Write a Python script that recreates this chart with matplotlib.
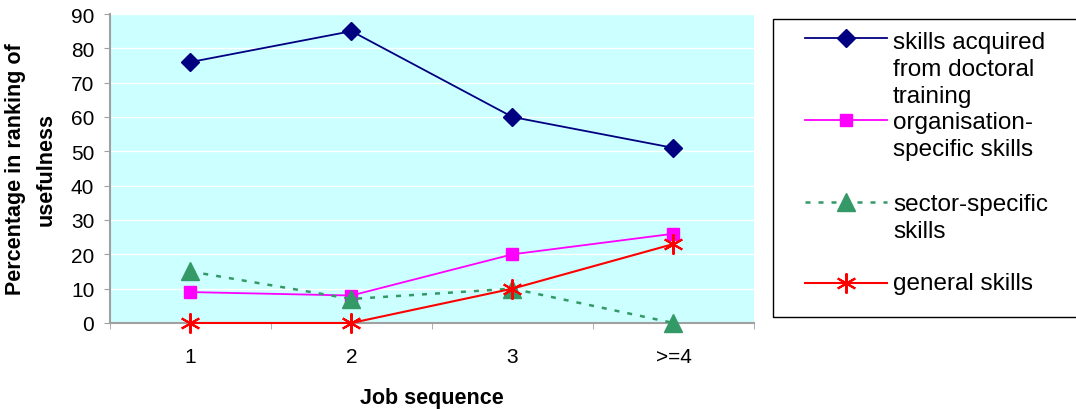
import numpy as np
import matplotlib.pyplot as plt
from matplotlib.lines import Line2D
from matplotlib.patches import Rectangle

plt.rcParams['font.family'] = ['Liberation Sans', 'DejaVu Sans']

categories = ['1', '2', '3', '>=4']
doctoral = [76, 85, 60, 51]
organisation = [9, 8, 20, 26]
sector = [15, 7, 10, 0]
general = [0, 0, 10, 23]

labels = ['skills acquired\nfrom doctoral\ntraining',
          'organisation-\nspecific skills',
          'sector-specific\nskills',
          'general skills']
styles = [dict(color='#000080', marker='D', ms=9, lw=1.3, ls='-'),
          dict(color='#FF00FF', marker='s', ms=9, lw=1.3, ls='-'),
          dict(color='#339966', marker='^', ms=12.5, lw=1.8, ls=(0, (2, 3.2))),
          dict(color='#FF0000', marker=(6, 2, 0), ms=14.5, mew=1.5, lw=1.5, ls='-')]

fig = plt.figure(figsize=(10.76, 4.10), dpi=100)
ax = fig.add_axes([0.1022, 0.2098, 0.5985, 0.7536])
ax.set_facecolor('#CCFFFF')

x = np.arange(1, len(categories) + 1)
for vals, st in zip([doctoral, organisation, sector, general], styles):
    ax.plot(x, vals, clip_on=False, zorder=3, **st)

ax.set_xlim(0.5, len(categories) + 0.5)
ax.set_ylim(0, 90)
ax.set_yticks(np.arange(0, 91, 10))
ax.set_xticks(x)
ax.set_xticklabels(categories)
ax.set_xticks(np.arange(0.5, len(categories) + 1), minor=True)
ax.tick_params(axis='x', which='major', length=0, pad=17, labelsize=15)
ax.tick_params(axis='x', which='minor', length=4.3, color='#A0A0A0')
ax.tick_params(axis='y', length=4.3, color='#A0A0A0', labelsize=15, pad=7)
ax.yaxis.grid(True, color='white', lw=1)
ax.set_axisbelow(True)
for s in ['top', 'right']:
    ax.spines[s].set_visible(False)
for s in ['left', 'bottom']:
    ax.spines[s].set_color('#A0A0A0')
    ax.spines[s].set_linewidth(1.5)

ax.set_xlabel('Job sequence', fontsize=15.5, fontweight='bold', labelpad=15.5)
ax.set_ylabel('Percentage in ranking of\nusefulness', fontsize=15.5,
              fontweight='bold', labelpad=10, linespacing=1.6)

# legend box drawn by hand so the handles sit on the first text line
W, H = 1076, 410
fig.patches.append(Rectangle((773 / W, 1 - 318 / H), 310 / W, 298 / H,
                             transform=fig.transFigure, fill=False,
                             ec='black', lw=1))
rows = [39, 121, 203, 284]
for lab, st, yy in zip(labels, styles, rows):
    yf = 1 - yy / H
    line_kw = {k: v for k, v in st.items() if k not in ('marker', 'ms', 'mew')}
    fig.add_artist(Line2D([805 / W, 887 / W], [yf, yf], transform=fig.transFigure,
                          **line_kw))
    fig.add_artist(Line2D([846 / W], [yf], transform=fig.transFigure,
                          ls='none', color=st['color'], marker=st['marker'],
                          ms=st['ms'], mew=st.get('mew', 1)))
    # baseline alignment uses the last line, so push down by the extra lines
    last = yy + 6 + 29 * lab.count('\n')
    fig.text(893 / W, 1 - last / H, lab, fontsize=17.5, va='baseline',
             ha='left', linespacing=1.28)

fig.savefig('out.png', dpi=100)
